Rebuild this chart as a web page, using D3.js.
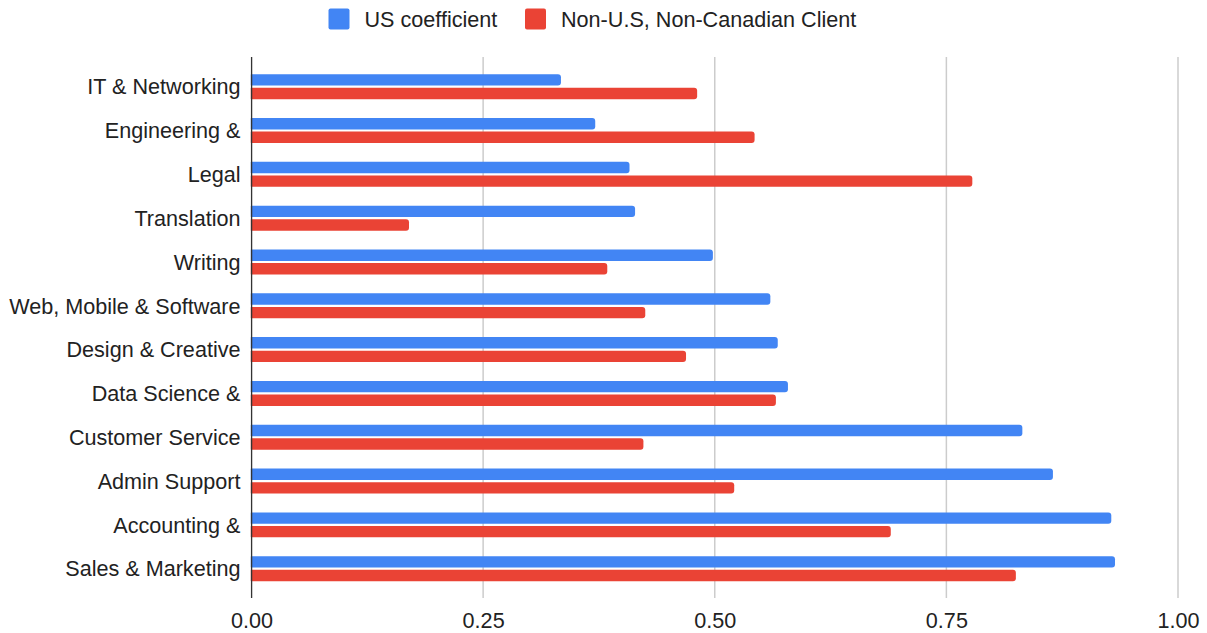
<!DOCTYPE html>
<html>
<head>
<meta charset="utf-8">
<script src="https://cdn.jsdelivr.net/npm/d3@7"></script>
<style>
  body { margin: 0; background: #fff; }
  text { font-family: "Liberation Sans", Arial, sans-serif; fill: #222; }
</style>
</head>
<body>
<div id="wrapper"></div>
<script>
const categories = ["IT & Networking", "Engineering &", "Legal", "Translation", "Writing",
  "Web, Mobile & Software", "Design & Creative", "Data Science &", "Customer Service",
  "Admin Support", "Accounting &", "Sales & Marketing"]
const usCoefficient = [0.334, 0.371, 0.408, 0.414, 0.498, 0.560, 0.568, 0.579, 0.832, 0.865, 0.928, 0.932]
const nonUsClient = [0.481, 0.543, 0.778, 0.170, 0.384, 0.425, 0.469, 0.566, 0.423, 0.521, 0.690, 0.825]
const seriesNames = ["US coefficient", "Non-U.S, Non-Canadian Client"]
const seriesColors = ["#4285F4", "#EA4335"]
const xTicks = [0, 0.25, 0.5, 0.75, 1]

function drawChart() {
    const dimensions = {
        width: 1207,
        height: 633,
        left: 251.5,
        right: 1178,
        top: 57,
        bottom: 598,
    }
    const fontSize = "21.6px"

    const rows = categories.map((c, i) => ({
        category: c,
        values: [usCoefficient[i], nonUsClient[i]],
    }))

    const svg = d3.select("#wrapper")
        .append("svg")
        .attr("width", dimensions.width)
        .attr("height", dimensions.height)

    const xScale = d3.scaleLinear()
        .domain([0, 1])
        .range([dimensions.left, dimensions.right])

    const yScale = d3.scaleBand()
        .domain(categories)
        .range([64.8, 590.6])
        .paddingInner(0.43)
        .paddingOuter(0.215)

    const subScale = d3.scaleBand()
        .domain([0, 1])
        .range([0, yScale.bandwidth()])
        .paddingInner(0.16)

    // gridlines
    svg.append("g")
        .selectAll("line")
        .data(xTicks.slice(1))
        .join("line")
        .attr("x1", d => xScale(d))
        .attr("x2", d => xScale(d))
        .attr("y1", dimensions.top)
        .attr("y2", dimensions.bottom)
        .attr("stroke", "#cccccc")
        .attr("stroke-width", 1.5)

    // bars
    const groups = svg.append("g")
        .selectAll("g")
        .data(rows)
        .join("g")
        .attr("transform", d => `translate(0, ${yScale(d.category)})`)

    groups.selectAll("rect")
        .data(d => d.values.map((v, i) => ({ v, i })))
        .join("rect")
        .attr("x", xScale(0) - 3)
        .attr("y", d => subScale(d.i))
        .attr("width", d => xScale(d.v) - xScale(0) + 3)
        .attr("height", subScale.bandwidth())
        .attr("rx", 3)
        .attr("fill", d => seriesColors[d.i])

    // baseline axis
    svg.append("line")
        .attr("x1", xScale(0))
        .attr("x2", xScale(0))
        .attr("y1", dimensions.top)
        .attr("y2", dimensions.bottom)
        .attr("stroke", "#333")
        .attr("stroke-width", 1.5)

    // white cover left of axis so rounded left corners don't poke out
    svg.append("rect")
        .attr("x", xScale(0) - 4)
        .attr("y", dimensions.top)
        .attr("width", 3.2)
        .attr("height", dimensions.bottom - dimensions.top)
        .attr("fill", "#fff")

    // category labels
    const yAxis = svg.append("g")
        .attr("transform", `translate(${xScale(0) - 11}, 0)`)
        .call(d3.axisLeft(yScale).tickSize(0).tickPadding(0))
    yAxis.select(".domain").remove()
    yAxis.selectAll("text")
        .style("font-size", fontSize)
        .style("font-family", "\"Liberation Sans\", Arial, sans-serif")
        .attr("fill", "#222")
        .attr("dy", "0.36em")

    // x tick labels
    const xAxis = svg.append("g")
        .attr("transform", `translate(0, ${dimensions.bottom})`)
        .call(d3.axisBottom(xScale).tickValues(xTicks).tickFormat(d3.format(".2f")).tickSize(0).tickPadding(0))
    xAxis.select(".domain").remove()
    xAxis.selectAll("text")
        .style("font-size", fontSize)
        .style("font-family", "\"Liberation Sans\", Arial, sans-serif")
        .attr("fill", "#222")
        .attr("dy", "0")
        .attr("y", 29.5)

    // legend
    const legendX = [328.5, 525]
    const legend = svg.append("g")
        .selectAll("g")
        .data(seriesNames)
        .join("g")
        .attr("transform", (d, i) => `translate(${legendX[i]}, 8.5)`)
    legend.append("rect")
        .attr("width", 21)
        .attr("height", 21)
        .attr("rx", 2)
        .attr("fill", (d, i) => seriesColors[i])
    legend.append("text")
        .attr("x", 36)
        .attr("y", 10.5)
        .attr("dy", "0.36em")
        .style("font-size", fontSize)
        .text(d => d)
}

drawChart()
</script>
</body>
</html>
